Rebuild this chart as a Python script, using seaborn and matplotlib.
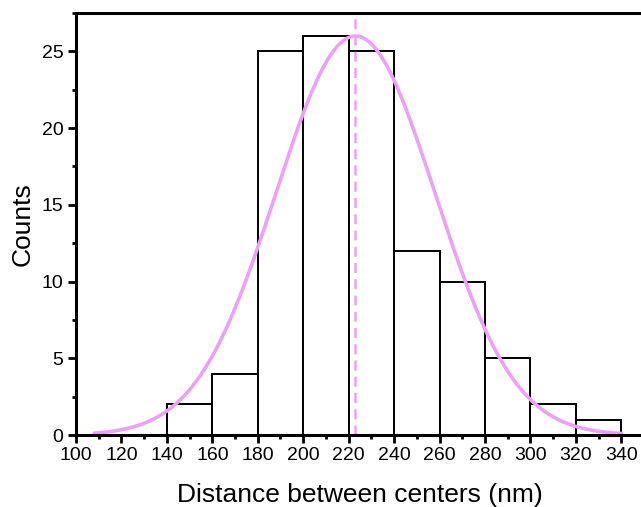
import numpy as np
import pandas as pd
import matplotlib
matplotlib.use("Agg")
import matplotlib.pyplot as plt
from matplotlib.ticker import MultipleLocator
import seaborn as sns

# Data
bin_edges = [140, 160, 180, 200, 220, 240, 260, 280, 300, 320, 340]
counts = [2, 4, 25, 26, 25, 12, 10, 5, 2, 1]
fit_center = 223.0
fit_sigma = 35.0
fit_amplitude = 26.0
fit_range = [108, 340]
x_ticks = [100, 120, 140, 160, 180, 200, 220, 240, 260, 280, 300, 320, 340]
y_ticks = [0, 5, 10, 15, 20, 25]

sns.set_style("ticks")
plt.rcParams['font.family'] = ['Liberation Sans', 'DejaVu Sans']
plt.rcParams['text.color'] = 'black'
plt.rcParams['axes.labelcolor'] = 'black'
plt.rcParams['xtick.color'] = 'black'
plt.rcParams['ytick.color'] = 'black'

fig = plt.figure(figsize=(6.41, 5.07), dpi=100)
ax = fig.add_axes([76/641, 1 - 435/507, (644 - 76)/641, (435 - 13)/507])

centers = [(a + b) / 2 for a, b in zip(bin_edges[:-1], bin_edges[1:])]
df = pd.DataFrame({"x": centers, "w": counts})
sns.histplot(data=df, x="x", weights="w", bins=bin_edges, ax=ax,
             color="white", edgecolor="black", linewidth=1.4, alpha=1)

xs = np.linspace(fit_range[0], fit_range[1], 400)
ys = fit_amplitude * np.exp(-(xs - fit_center) ** 2 / (2 * fit_sigma ** 2))
sns.lineplot(x=xs, y=ys, ax=ax, color="#EDA0F7", linewidth=2.6)
ax.axvline(fit_center, color="#EDA0F7", linewidth=1.8, linestyle=(0, (4, 2.5)))

ax.set_xlim(100, 350)
ax.set_ylim(0, 27.5)
ax.set_xticks(x_ticks)
ax.set_yticks(y_ticks)
ax.xaxis.set_minor_locator(MultipleLocator(10))
ax.yaxis.set_minor_locator(MultipleLocator(2.5))
ax.tick_params(axis="both", which="major", length=6, width=2, labelsize=14, direction="out", pad=3,
               colors="black")
ax.tick_params(axis="both", which="minor", length=3, width=2, direction="out", colors="black")
for s in ["left", "bottom", "top"]:
    ax.spines[s].set_linewidth(2.2)
    ax.spines[s].set_color("black")
ax.spines["right"].set_visible(False)

ax.set_xlabel("Distance between centers (nm)", fontsize=19, labelpad=13, color="black")
ax.set_ylabel("Counts", fontsize=19, labelpad=5, color="black")

fig.savefig("out.png", dpi=100)
